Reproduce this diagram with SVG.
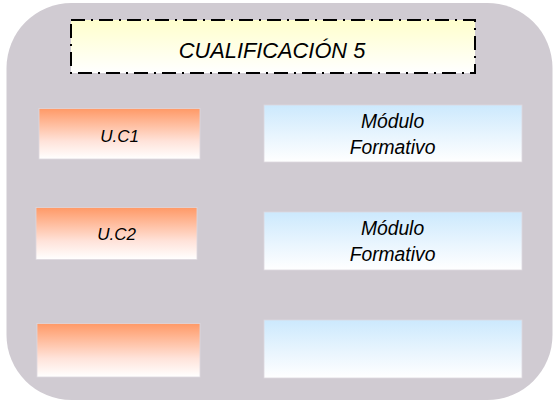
<svg xmlns="http://www.w3.org/2000/svg" width="553" height="403" viewBox="0 0 553 403">
<style>
text{font-family:"Liberation Sans",Arial,sans-serif;font-style:italic;fill:#000;text-anchor:middle}
.uc{fill:url(#gOr);stroke:#ddd8de;stroke-width:0.8}
.mf{fill:url(#gBl);stroke:#ddd8de;stroke-width:0.8}
.lbl{font-size:17px}
.mod{font-size:19.3px}
</style>
<defs>
<linearGradient id="gOr" x1="0" y1="0" x2="0" y2="1">
<stop offset="0" stop-color="#ff9966"/>
<stop offset="0.65" stop-color="#ffe3da"/>
<stop offset="1" stop-color="#ffffff"/>
</linearGradient>
<linearGradient id="gBl" x1="0" y1="0" x2="0" y2="1">
<stop offset="0" stop-color="#cce9fd"/>
<stop offset="0.55" stop-color="#e9f5fe"/>
<stop offset="1" stop-color="#ffffff"/>
</linearGradient>
<linearGradient id="gYe" x1="0" y1="0" x2="0" y2="1">
<stop offset="0" stop-color="#ffffcc"/>
<stop offset="1" stop-color="#ffffff"/>
</linearGradient>
</defs>
<rect id="background" x="6.5" y="3" width="546" height="397" rx="65" ry="65" fill="#d0cbd2"/>
<g id="title">
<rect x="71" y="20" width="404" height="53" fill="url(#gYe)" stroke="#000" stroke-width="2" stroke-dasharray="14 6 2 6"/>
<text x="272" y="57.5" font-size="21.8px">CUALIFICACIÓN 5</text>
</g>
<g id="uc1">
<rect class="uc" x="39" y="108.5" width="161" height="50.5"/>
<text class="lbl" x="119.5" y="141.5">U.C1</text>
</g>
<g id="uc2">
<rect class="uc" x="36" y="207.5" width="161" height="52"/>
<text class="lbl" x="116.5" y="240">U.C2</text>
</g>
<g id="uc3">
<rect class="uc" x="37" y="323.5" width="163" height="53.5"/>
</g>
<g id="mf1">
<rect class="mf" x="264" y="105" width="258" height="57"/>
<text class="mod" x="392.5" y="127.5">Módulo</text>
<text class="mod" x="392.5" y="153.5">Formativo</text>
</g>
<g id="mf2">
<rect class="mf" x="264" y="212" width="258" height="58"/>
<text class="mod" x="392.5" y="234.5">Módulo</text>
<text class="mod" x="392.5" y="261">Formativo</text>
</g>
<g id="mf3">
<rect class="mf" x="264" y="320" width="258" height="58"/>
</g>
<g id="connectors"></g>
</svg>
